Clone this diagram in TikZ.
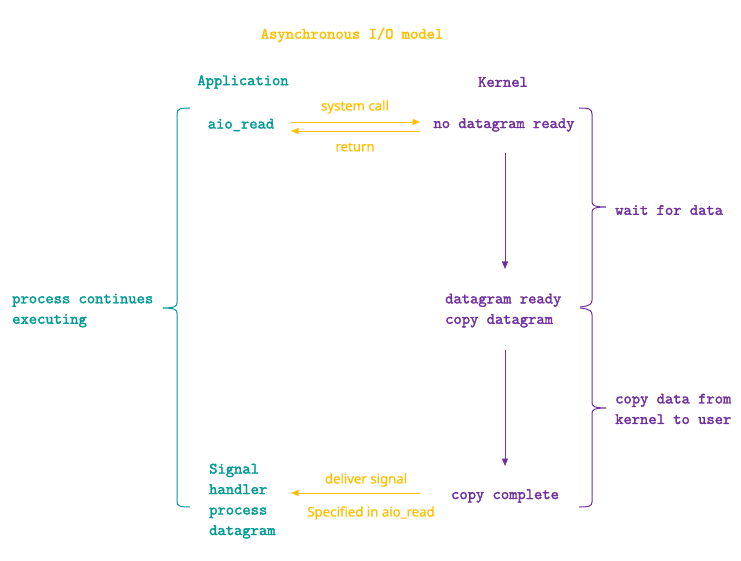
\documentclass[tikz,border=0pt]{standalone}
\usepackage{fontspec}
\newfontfamily\diaglabel{Noto Sans}[FakeBold=0.7]
\newfontfamily\diagmono{lmmono10-regular.otf}[FakeBold=2]
\usetikzlibrary{arrows.meta}
\definecolor{tealc}{HTML}{009B95}
\definecolor{purplec}{HTML}{7030A0}
\definecolor{orangec}{HTML}{FFC000}
\tikzset{
  mono/.style={font=\diagmono\fontsize{15.8}{20.5}\selectfont, inner sep=0pt},
  apptext/.style={mono, text=tealc},
  kertext/.style={mono, text=purplec},
  lbl/.style={font=\diaglabel\fontsize{13.2}{15}\selectfont, text=orangec, inner sep=0pt},
  oarrow/.style={draw=orangec, line width=0.9pt, -{Triangle[length=7.5pt,width=6pt]}},
  parrow/.style={draw=purplec, line width=0.9pt, -{Triangle[length=7.5pt,width=6pt]}},
  brace/.style={line width=1pt}
}
\begin{document}
\begin{tikzpicture}[x=1pt,y=-1pt]
\useasboundingbox[fill=white] (0,0) rectangle (741,561);
% headings
\node[mono, text=orangec] (title) at (352,35) {Asynchronous I/O model};
\node[apptext] (app) at (243,82) {Application};
\node[kertext] (kernel) at (503,82) {Kernel};
% application side
\node[apptext] (aio) at (241,125) {aio\_read};
\node[apptext, align=left, anchor=north west] (sig) at (209,463.5) {Signal\\handler\\process\\datagram};
\node[apptext, align=left, anchor=north west] (proc) at (12,293.5) {process continues\\executing};
% kernel side
\node[kertext] (nodg) at (504,125) {no datagram ready};
\node[kertext, align=left, anchor=north west] (dgready) at (445,293.5) {datagram ready\\copy datagram};
\node[kertext] (copyc) at (505,496) {copy complete};
\node[kertext, anchor=west] (wait) at (615,210) {wait for data};
\node[kertext, align=left, anchor=north west] (copyd) at (615,393.5) {copy data from\\kernel to user};
% arrow end points
\coordinate (sc1) at (291,122); \coordinate (sc2) at (420,122);
\coordinate (rt1) at (420,131); \coordinate (rt2) at (291,131);
\coordinate (v1a) at (505,153); \coordinate (v1b) at (505,269);
\coordinate (v2a) at (505,350); \coordinate (v2b) at (505,466);
\coordinate (ds1) at (420,493); \coordinate (ds2) at (291,493);
% arrows
\draw[oarrow] (sc1) -- (sc2);
\draw[oarrow] (rt1) -- (rt2);
\draw[parrow] (v1a) -- (v1b);
\draw[parrow] (v2a) -- (v2b);
\draw[oarrow] (ds1) -- (ds2);
% arrow labels
\node[lbl] (lsc) at (355,107) {system call};
\node[lbl] (lrt) at (355,147) {return};
\node[lbl] (lds) at (366,480) {deliver signal};
\node[lbl] (lsp) at (371,513) {Specified in aio\_read};
% left brace
\draw[brace, draw=tealc] (190,108) .. controls (180,108) and (177,109) .. (177,114)
  -- (177,303) .. controls (177,306) and (175,308) .. (163,308)
  .. controls (175,308) and (177,310) .. (177,313)
  -- (177,502) .. controls (177,506) and (180,507) .. (190,507);
% right braces
\draw[brace, draw=purplec] (579,108) .. controls (589,108) and (592,109) .. (592,114)
  -- (592,202) .. controls (592,205) and (594,207) .. (606,207)
  .. controls (594,207) and (592,209) .. (592,212)
  -- (592,300) .. controls (592,304) and (590,306) .. (580,307);
\draw[brace, draw=purplec] (580,308) .. controls (590,309) and (592,311) .. (592,315)
  -- (592,403) .. controls (592,406) and (594,408) .. (606,408)
  .. controls (594,408) and (592,410) .. (592,413)
  -- (592,502) .. controls (592,506) and (589,507) .. (579,507);
\end{tikzpicture}
\end{document}
